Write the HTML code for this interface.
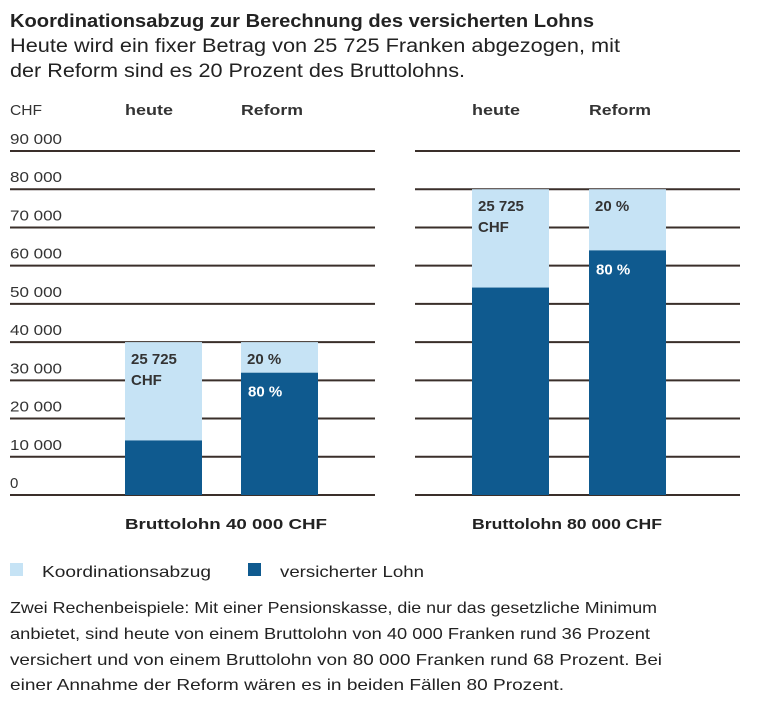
<!DOCTYPE html>
<html><head><meta charset="utf-8"><style>
body{margin:0;background:#fff;font-family:"Liberation Sans",sans-serif;color:#222}
svg text{font-family:"Liberation Sans",sans-serif}
</style></head><body>
<svg width="761" height="708" viewBox="0 0 761 708">
<text x="10" y="27" font-size="18" font-weight="bold" fill="#222" textLength="584" lengthAdjust="spacingAndGlyphs">Koordinationsabzug zur Berechnung des versicherten Lohns</text>
<text x="10" y="52" font-size="19" fill="#222" textLength="610" lengthAdjust="spacingAndGlyphs">Heute wird ein fixer Betrag von 25 725 Franken abgezogen, mit</text>
<text x="10" y="77" font-size="19" fill="#222" textLength="455" lengthAdjust="spacingAndGlyphs">der Reform sind es 20 Prozent des Bruttolohns.</text>
<text x="10" y="115" font-size="15" fill="#333" textLength="32" lengthAdjust="spacingAndGlyphs">CHF</text>
<g id="grid"></g><g id="bars"></g><g id="labels"></g>
<text x="125" y="529" font-size="15" font-weight="bold" fill="#222" textLength="202" lengthAdjust="spacingAndGlyphs">Bruttolohn 40 000 CHF</text>
<text x="472" y="529" font-size="15" font-weight="bold" fill="#222" textLength="190" lengthAdjust="spacingAndGlyphs">Bruttolohn 80 000 CHF</text>
<g>
<rect x="10" y="563" width="13" height="13" fill="#c6e3f5"/>
<text x="42" y="577" font-size="16" fill="#222" textLength="169" lengthAdjust="spacingAndGlyphs">Koordinationsabzug</text>
<rect x="248" y="563" width="13" height="13" fill="#0f5a8f"/>
<text x="280" y="577" font-size="16" fill="#222" textLength="144" lengthAdjust="spacingAndGlyphs">versicherter Lohn</text>
</g>
<g font-size="16" fill="#222">
<text x="10" y="613" textLength="647" lengthAdjust="spacingAndGlyphs">Zwei Rechenbeispiele: Mit einer Pensionskasse, die nur das gesetzliche Minimum</text>
<text x="10" y="639" textLength="640" lengthAdjust="spacingAndGlyphs">anbietet, sind heute von einem Bruttolohn von 40 000 Franken rund 36 Prozent</text>
<text x="10" y="665" textLength="652" lengthAdjust="spacingAndGlyphs">versichert und von einem Bruttolohn von 80 000 Franken rund 68 Prozent. Bei</text>
<text x="10" y="690" textLength="554" lengthAdjust="spacingAndGlyphs">einer Annahme der Reform wären es in beiden Fällen 80 Prozent.</text>
</g>
</svg>
<script>
const ticks=[0,10000,20000,30000,40000,50000,60000,70000,80000,90000];
const tickLabels=["0","10 000","20 000","30 000","40 000","50 000","60 000","70 000","80 000","90 000"];
const barNames=["heute-40000","reform-40000","heute-80000","reform-80000"];
const barHeaders=["heute","Reform","heute","Reform"];
const insured=[14275,32000,54275,64000];
const gross=[40000,40000,80000,80000];
const topLabel=[["25 725","CHF"],["20 %"],["25 725","CHF"],["20 %"]];
const insuredLabel=["","80 %","","80 %"];
const NS="http://www.w3.org/2000/svg";
const y0=495,y1=151,vmax=90000;
const Y=v=>y0-(v/vmax)*(y0-y1);
const barX=[125,241,472,589],bw=77;
function mk(t,a,p){const e=document.createElementNS(NS,t);for(const k in a)e.setAttribute(k,a[k]);p.appendChild(e);return e;}
const grid=document.getElementById('grid'),bars=document.getElementById('bars'),lab=document.getElementById('labels');
ticks.forEach((t,i)=>{
 const y=Y(t);
 const l1=mk('line',{x1:10,x2:375,y1:y,y2:y,stroke:'#3a2f2a','stroke-width':2},grid);
 
 
 const l2=mk('line',{x1:415,x2:740,y1:y,y2:y,stroke:'#3a2f2a','stroke-width':2},grid);
 
 
 const a={x:10,y:y-7,'font-size':15,fill:'#333'};
 if(t>0){a.textLength=t>=10000?52:40;a.lengthAdjust='spacingAndGlyphs';}
 const tx=mk('text',a,grid);
 tx.textContent=tickLabels[i];
 
 
});
barNames.forEach((n,i)=>{
 const x=barX[i];
 const h=mk('text',{x:x,y:115,'font-size':15,'font-weight':'bold',fill:'#333',textLength:barHeaders[i]==='heute'?48:62,lengthAdjust:'spacingAndGlyphs'},lab);
 h.textContent=barHeaders[i];
 
 
 const a=mk('rect',{x:x,y:Y(gross[i]),width:bw,height:Y(insured[i])-Y(gross[i]),fill:'#c6e3f5'},bars);
 
 
 const b=mk('rect',{x:x,y:Y(insured[i]),width:bw,height:y0-Y(insured[i]),fill:'#0f5a8f'},bars);
 
 
 topLabel[i].forEach((s,j)=>{
  const t=mk('text',{x:x+6,y:Y(gross[i])+22+j*21,'font-size':15,'font-weight':'bold',fill:'#333'},lab);
  t.textContent=s;
  
  
 });
 if(insuredLabel[i]){
  const t=mk('text',{x:x+7,y:Y(insured[i])+24,'font-size':15,'font-weight':'bold',fill:'#fff'},lab);
  t.textContent=insuredLabel[i];
  
  
 }
});
</script>
</body></html>
